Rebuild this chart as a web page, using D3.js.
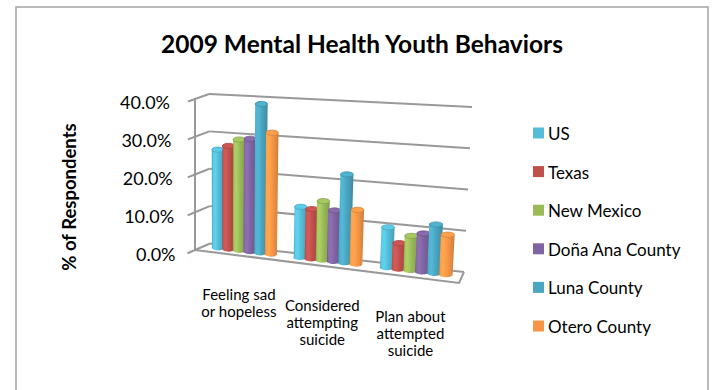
<!DOCTYPE html>
<html>
<head>
<meta charset="utf-8">
<script src="https://cdn.jsdelivr.net/npm/d3@7"></script>
<style>
  body { margin: 0; background: #ffffff; }
  text { font-family: Lato, "Open Sans", sans-serif; fill: #000; }
</style>
</head>
<body>
<svg id="chart" width="714" height="390"></svg>
<script>
// ---- data ----
const categories = ["Feeling sad or hopeless", "Considered attempting suicide", "Plan about attempted suicide"];
const seriesNames = ["US", "Texas", "New Mexico", "Doña Ana County", "Luna County", "Otero County"];
const seriesColors = ["#55BDD8", "#C0504D", "#9BBB59", "#8064A2", "#4AA6C1", "#F79646"];
const usValues = [26.0, 13.0, 10.0];
const texasValues = [27.2, 12.7, 6.4];
const newMexicoValues = [29.1, 15.0, 8.5];
const donaAnaValues = [29.5, 12.9, 9.4];
const lunaValues = [38.8, 22.3, 11.9];
const oteroValues = [31.5, 13.6, 9.7];
const yTicks = [0, 10, 20, 30, 40];
const yTickLabels = ["0.0%", "10.0%", "20.0%", "30.0%", "40.0%"];
const chartTitle = "2009 Mental Health Youth Behaviors";
const yAxisTitle = "% of Respondents";

const seriesValues = [usValues, texasValues, newMexicoValues, donaAnaValues, lunaValues, oteroValues];

// ---- 3-D box projection ----
// screen corners of the plot box: [u: left/right][z: front/back]
const boxBottom = [[[195, 250], [210, 243.5]], [[459, 283], [464, 272]]];
const boxTop    = [[[195, 99],  [209, 94]],    [[468, 118], [472, 107]]];
const depthWeight = [1, 0.92];   // right side is nearer the eye

function project(u, v, z) {
  let X = 0, Y = 0, W = 0;
  for (const iu of [0, 1]) for (const iz of [0, 1]) for (const iv of [0, 1]) {
    const b = (iu ? u : 1 - u) * (iz ? z : 1 - z) * (iv ? v : 1 - v) * depthWeight[iu];
    const p = (iv ? boxTop : boxBottom)[iu][iz];
    X += b * p[0]; Y += b * p[1]; W += b;
  }
  return [X / W, Y / W];
}

const svg = d3.select("#chart");
const yScale = d3.scaleLinear().domain([0, 40]).range([0, 1]);
const x0 = d3.scaleBand().domain(categories).range([0, 1]);
const x1 = d3.scaleBand().domain(seriesNames).range([0, x0.bandwidth()]).paddingInner(0).paddingOuter(0.83);
const color = d3.scaleOrdinal().domain(seriesNames).range(seriesColors);
const barDepth = 0.6;
const line = d3.line();

// chart frame
svg.append("rect").attr("x", 16).attr("y", 7).attr("width", 692).attr("height", 400)
  .attr("fill", "#fff").attr("stroke", "#a9a9a9").attr("stroke-width", 1.6);

const gridColor = "#999999";
const grid = svg.append("g").attr("fill", "none").attr("stroke", gridColor).attr("stroke-width", 2);

// back wall gridlines
yTicks.forEach(t => {
  grid.append("path").attr("d", line([project(0, yScale(t), 1), project(1, yScale(t), 1)]));
});
// side wall lines with outward ticks
yTicks.forEach(t => {
  grid.append("path").attr("d", line([project(0, yScale(t), -0.5), project(0, yScale(t), 0), project(0, yScale(t), 1)]));
});
// value axis
grid.append("path").attr("d", line([project(0, 0, 0), project(0, 1, 0)]));
// floor outline
grid.append("path").attr("d", line([project(0, 0, 0), project(1, 0, 0), project(1, 0, 1)]));

// ---- gradients for cylinders ----
const defs = svg.append("defs");
seriesNames.forEach((s, i) => {
  const c = d3.color(seriesColors[i]);
  const g = defs.append("linearGradient").attr("id", "cyl" + i).attr("x1", 0).attr("x2", 1).attr("y1", 0).attr("y2", 0);
  [[0, c.darker(0.5)], [0.12, c.brighter(0.2)], [0.3, c.brighter(0.3)], [0.55, c], [0.85, c.darker(0.3)], [1, c.darker(0.6)]]
    .forEach(([o, col]) => g.append("stop").attr("offset", o).attr("stop-color", col.formatHex()));
});

// ---- bars ----
const bars = [];
categories.forEach((cat, ci) => {
  seriesNames.forEach((s, si) => {
    bars.push({ cat, s, si, value: seriesValues[si][ci] });
  });
});

const ry = 2.6;
const barG = svg.append("g");
bars.forEach(d => {
  const uc = x0(d.cat) + x1(d.s) + x1.bandwidth() / 2;
  const hw = x1.bandwidth() * 0.56;
  const v = yScale(d.value);
  const bl = project(uc - hw, 0, barDepth), br = project(uc + hw, 0, barDepth);
  const tl = project(uc - hw, v, barDepth), tr = project(uc + hw, v, barDepth);
  const top = project(uc, v, barDepth);
  const rxB = (br[0] - bl[0]) / 2, rxT = (tr[0] - tl[0]) / 2;
  const c = d3.color(seriesColors[d.si]);
  barG.append("path")
    .attr("d", `M${bl}L${tl}L${tr}L${br}A${rxB},${ry} 0 0 1 ${bl}Z`)
    .attr("fill", `url(#cyl${d.si})`);
  barG.append("ellipse")
    .attr("cx", top[0]).attr("cy", top[1]).attr("rx", rxT).attr("ry", ry)
    .attr("fill", c.brighter(0.2).formatHex())
    .attr("stroke", c.darker(0.4).formatHex()).attr("stroke-width", 0.8);
});

// ---- value axis labels ----
yTicks.forEach((t, i) => {
  const p = project(0, yScale(t), -0.5);
  const x = p[0] - 12 - 6 * yScale(t);
  svg.append("text")
    .attr("x", x).attr("y", p[1] + 0.5)
    .attr("text-anchor", "end").attr("dominant-baseline", "central")
    .attr("font-size", 18).text(yTickLabels[i]);
});

// ---- category labels (wrapped) ----
const catFont = 15;
function wrapWords(text, maxW, size) {
  const probe = svg.append("text").attr("font-size", size);
  const words = text.split(" ");
  const lines = [];
  let cur = words[0];
  for (let k = 1; k < words.length; k++) {
    probe.text(cur + " " + words[k]);
    if (probe.node().getComputedTextLength() > maxW) { lines.push(cur); cur = words[k]; }
    else cur += " " + words[k];
  }
  lines.push(cur);
  probe.remove();
  return lines;
}
categories.forEach(cat => {
  const uc = x0(cat) + x0.bandwidth() / 2;
  const p = project(uc, 0, 0);
  const lines = wrapWords(cat, 78, catFont);
  const t = svg.append("text")
    .attr("transform", `translate(${p[0] + 4 - 6.5 * uc},${p[1] + 45})`)
    .attr("text-anchor", "middle").attr("font-size", catFont);
  lines.forEach((ln, k) => t.append("tspan").attr("x", 0).attr("dy", k ? 17 : 0).text(ln));
});

// ---- axis title ----
svg.append("text")
  .attr("transform", "translate(76,197) rotate(-90)")
  .attr("text-anchor", "middle").attr("font-weight", 700).attr("font-size", 18.5)
  .text(yAxisTitle);

// ---- chart title ----
svg.append("text")
  .attr("x", 362).attr("y", 53)
  .attr("text-anchor", "middle").attr("font-weight", 700).attr("font-size", 24.5)
  .text(chartTitle);

// ---- legend ----
const legend = svg.append("g");
seriesNames.forEach((s, i) => {
  const cy = 133 + i * 38.6;
  legend.append("rect").attr("x", 533).attr("y", cy - 5.5).attr("width", 11).attr("height", 11)
    .attr("fill", color(s));
  legend.append("text")
    .attr("x", 548).attr("y", cy + 0.5)
    .attr("dominant-baseline", "central").attr("font-size", 17).text(s);
});
</script>
</body>
</html>
